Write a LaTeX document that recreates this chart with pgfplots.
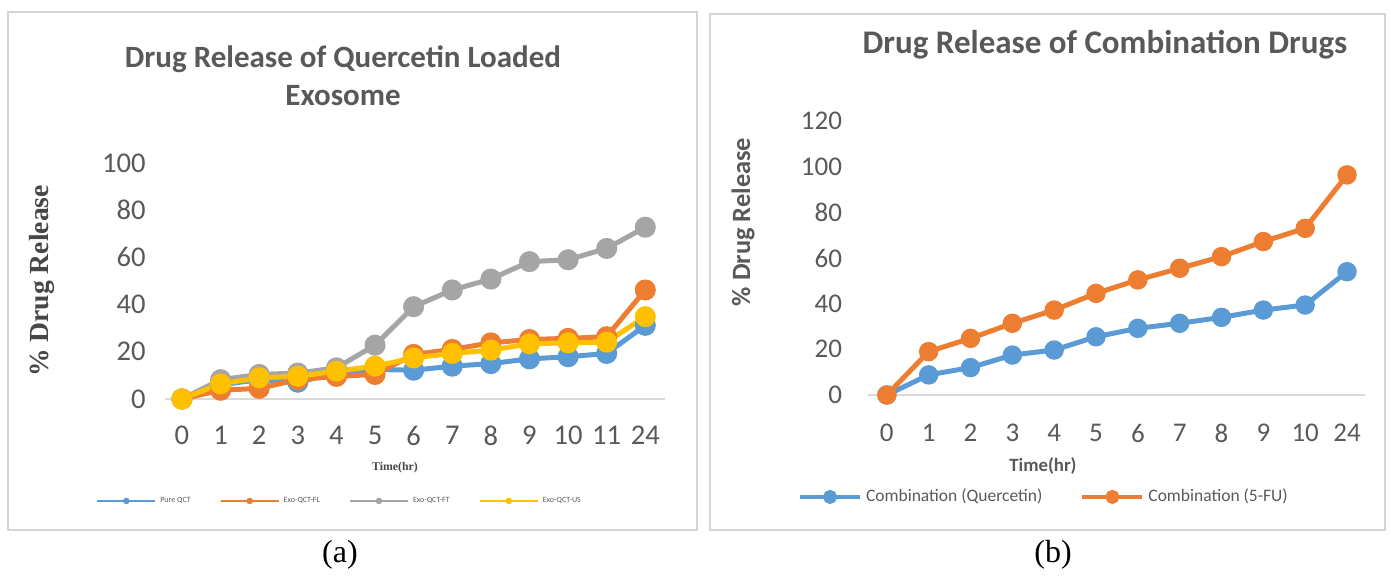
\documentclass[border=0pt]{standalone}
\usepackage{pgfplots}
\pgfplotsset{compat=1.18}
\usepackage{fontspec}
\setmainfont{Carlito}
\newfontfamily\seriffont{Liberation Serif}

\definecolor{xlblue}{HTML}{5B9BD5}
\definecolor{xlorange}{HTML}{ED7D31}
\definecolor{xlgray}{HTML}{A5A5A5}
\definecolor{xlyellow}{HTML}{FFC000}
\definecolor{txtgray}{HTML}{595959}
\definecolor{rulegray}{HTML}{D9D9D9}
\definecolor{framegray}{HTML}{D4D4D4}

% release data, time points indexed 0..12 (0-11 h and 24 h)
\pgfplotstableread{
idx pure fl ft us
0  0    0    0    0
1  6.0  3.7  8.2  6.4
2  8.2  4.5  10.4 9.0
3  7.1  8.2  11.0 9.6
4  11.0 9.6  13.2 11.8
5  12.5 10.4 22.8 13.9
6  12.2 18.9 39.1 17.4
7  13.9 21.0 46.2 19.3
8  15.0 23.8 50.8 20.7
9  17.0 25.2 58.2 23.4
10 17.9 25.7 59.0 23.8
11 19.3 26.4 63.8 24.1
12 31.2 46.2 72.8 34.9
}\qctdata

% combination release, time points indexed 0..11 (0-10 h and 24 h)
\pgfplotstableread{
idx quer fu
0  0    0
1  8.8  19.0
2  12.0 24.8
3  17.5 31.4
4  19.7 37.2
5  25.5 44.5
6  29.2 50.4
7  31.4 55.5
8  34.0 60.6
9  37.2 67.2
10 39.4 73.0
11 54.0 96.4
}\combdata

\pgfplotsset{
  excelpanel/.style={
    scale only axis, clip=false,
    axis x line=bottom, axis y line=left,
    x axis line style={draw=rulegray, line width=1pt, -},
    y axis line style={draw=none},
    major tick length=0pt,
    tick label style={text=txtgray},
    /pgf/number format/assume math mode=true,
    legend cell align=left,
  },
  midmark legend/.style={
    legend image code/.code={%
      \draw[mark repeat=2,mark phase=2,##1] plot coordinates {(0pt,0pt) (#1,0pt) (2*#1,0pt)};}
  },
}

\begin{document}
\begin{tikzpicture}[x=0.5pt,y=0.5pt]
\useasboundingbox (0,0) rectangle (1391,577);

% panel frames
\draw[framegray, line width=1pt] (8,47) rectangle (697,565);
\draw[framegray, line width=1pt] (710,47) rectangle (1385,563);

% ---------- panel (a) ----------
\node[align=center, font=\bfseries\fontsize{15.5}{19}\selectfont, text=txtgray] at (343,501)
  {Drug Release of Quercetin Loaded\\Exosome};
\node[rotate=90, font=\seriffont\bfseries\fontsize{13.8}{16}\selectfont, text=black!72] at (42,296)
  {\% Drug Release};
\node[font=\seriffont\bfseries\fontsize{5.9}{7}\selectfont, text=black!72] at (395,109) {Time(hr)};

\begin{axis}[excelpanel,
  at={(82.3pt,89pt)}, anchor=south west,
  width=250pt, height=118pt,
  xmin=-0.45, xmax=12.5, ymin=0, ymax=100,
  xtick={0,...,12}, xticklabels={0,1,2,3,4,5,6,7,8,9,10,11,24},
  ytick={0,20,...,100},
  tick label style={font=\fontsize{14.3}{16}\selectfont},
  xticklabel style={yshift=-10pt},
  yticklabel style={xshift=-6pt},
  every axis plot/.append style={line width=2.5pt, mark=*, mark size=4pt},
  legend style={at={(0.352,-0.432)}, anchor=center, draw=none, fill=none,
    font=\fontsize{4}{5}\selectfont, text=txtgray, legend columns=4,
    /tikz/every even column/.append style={column sep=12.5pt}},
  midmark legend=14.5pt,
]
\addplot[xlblue, forget plot] table[x=idx, y=pure] {\qctdata};
\addplot[xlorange, forget plot] table[x=idx, y=fl] {\qctdata};
\addplot[xlgray, forget plot] table[x=idx, y=ft] {\qctdata};
\addplot[xlyellow, forget plot] table[x=idx, y=us] {\qctdata};
\addlegendimage{xlblue, line width=1pt, mark=*, mark size=1.1pt}
\addlegendentry{Pure QCT}
\addlegendimage{xlorange, line width=1pt, mark=*, mark size=1.1pt}
\addlegendentry{Exo-QCT-FL}
\addlegendimage{xlgray, line width=1pt, mark=*, mark size=1.1pt}
\addlegendentry{Exo-QCT-FT}
\addlegendimage{xlyellow, line width=1pt, mark=*, mark size=1.1pt}
\addlegendentry{Exo-QCT-US}
\end{axis}

% ---------- panel (b) ----------
\node[font=\bfseries\fontsize{16.5}{19}\selectfont, text=txtgray] at (1105,532)
  {Drug Release of Combination Drugs};
\node[rotate=90, font=\bfseries\fontsize{13.2}{15}\selectfont, text=txtgray] at (743,355)
  {\% Drug Release};
\node[font=\bfseries\fontsize{9.4}{11}\selectfont, text=txtgray] at (1043,111) {Time(hr)};

\begin{axis}[excelpanel,
  at={(434pt,91pt)}, anchor=south west,
  width=248.5pt, height=137pt,
  xmin=-0.45, xmax=11.43, ymin=0, ymax=120,
  xtick={0,...,11}, xticklabels={0,1,2,3,4,5,6,7,8,9,10,24},
  ytick={0,20,...,120},
  tick label style={font=\fontsize{13.5}{15}\selectfont},
  xticklabel style={yshift=-11pt},
  yticklabel style={xshift=-9.5pt},
  every axis plot/.append style={line width=2.5pt, mark=*, mark size=3.6pt},
  legend style={at={(0.356,-0.372)}, anchor=center, draw=none, fill=none,
    font=\fontsize{8.75}{10}\selectfont, text=txtgray, legend columns=2,
    /tikz/every even column/.append style={column sep=17pt}},
  midmark legend=15pt,
]
\addplot[xlblue, forget plot] table[x=idx, y=quer] {\combdata};
\addplot[xlorange, forget plot] table[x=idx, y=fu] {\combdata};
\addlegendimage{xlblue, line width=2pt, mark=*, mark size=2.5pt}
\addlegendentry{Combination (Quercetin)}
\addlegendimage{xlorange, line width=2pt, mark=*, mark size=2.5pt}
\addlegendentry{Combination (5-FU)}
\end{axis}

\node[font=\seriffont\fontsize{16}{18}\selectfont] at (340,22) {(a)};
\node[font=\seriffont\fontsize{16}{18}\selectfont] at (1053,22) {(b)};
\end{tikzpicture}
\end{document}
